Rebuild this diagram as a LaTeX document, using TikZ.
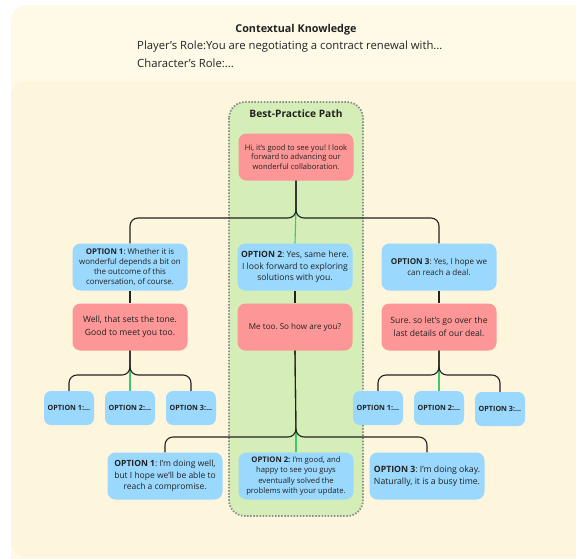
\documentclass[tikz,border=0pt]{standalone}
\usepackage{fontspec}
\setmainfont{Open Sans}
\frenchspacing
\definecolor{bgout}{HTML}{FFFAE8}
\definecolor{bgin}{HTML}{FEF5DD}
\definecolor{greenbg}{HTML}{D5EDB6}
\definecolor{bluefill}{HTML}{9AD8FD}
\definecolor{pinkfill}{HTML}{FD9696}
\definecolor{dotgray}{HTML}{8E8E8E}
\definecolor{greenline}{HTML}{3DC870}
\definecolor{txt}{HTML}{222222}
\newcommand{\fsz}[2]{\fontsize{#1}{#2}\selectfont}
\begin{document}
\begin{tikzpicture}[x=1pt,y=-1pt,
  box/.style={rounded corners=8pt, align=center, inner sep=0pt, text=txt,
    font=\fsz{7.9}{10}, minimum width=115pt, minimum height=47pt},
  bbox/.style={box, fill=bluefill},
  pbox/.style={box, fill=pinkfill},
  sbox/.style={rounded corners=7pt, fill=bluefill, align=center, inner sep=0pt, text=txt,
    font=\bfseries\fsz{7.2}{8}, minimum width=50pt, minimum height=34pt},
  conn/.style={draw=txt, line width=1.1pt, rounded corners=8pt},
  gconn/.style={draw=greenline, line width=1.1pt}]
\useasboundingbox (0,0) rectangle (576,558);
\fill[white] (0,0) rectangle (576,558);
\fill[bgout, rounded corners=16pt] (11,5) rectangle (620,620);
\fill[bgin, rounded corners=16pt] (11,81) rectangle (620,557);
% best practice region
\path[fill=greenbg, draw=dotgray, line width=1.8pt, dash pattern=on 1.5pt off 1.6pt, rounded corners=16pt]
  (229,102) rectangle (363,516);
\node[font=\bfseries\fsz{10.2}{11}, text=txt] (bpp) at (296,114) {Best-Practice Path};
% context
\node[font=\bfseries\fsz{10.8}{12}, text=txt] (title) at (296,30) {Contextual Knowledge};
\node[anchor=west, font=\fsz{11.3}{13}, text=txt, inner sep=0pt] (prole) at (137,47) {Player's Role:You are negotiating a contract renewal with...};
\node[anchor=west, font=\fsz{11.3}{13}, text=txt, inner sep=0pt] (crole) at (137,63) {Character's Role:...};
% nodes
\node[pbox, font=\fsz{7.6}{9.8}] (root) at (296,157) {Hi, it's good to see you! I look\\forward to advancing our\\wonderful collaboration.};
\node[bbox] (o1) at (130,267) {\textbf{OPTION 1}: Whether it is\\wonderful depends a bit on\\the outcome of this\\conversation, of course.};
\node[bbox, font=\fsz{8.6}{11.5}] (o2) at (295,267) {\textbf{OPTION 2}: Yes, same here.\\I look forward to exploring\\solutions with you.};
\node[bbox, font=\fsz{8.1}{11}] (o3) at (439,267) {\textbf{OPTION 3}: Yes, I hope we\\can reach a deal.};
\node[pbox, font=\fsz{8.6}{12.5}] (p1) at (130,327) {Well, that sets the tone.\\Good to meet you too.};
\node[pbox, font=\fsz{8.1}{11}] (p2) at (295,327) {Me too. So how are you?};
\node[pbox, font=\fsz{8.6}{12.5}] (p3) at (439,327) {Sure. so let's go over the\\last details of our deal.};
\node[sbox] (s11) at (69,408) {OPTION 1:...};
\node[sbox] (s12) at (130,408) {OPTION 2:...};
\node[sbox] (s13) at (191,408) {OPTION 3:...};
\node[sbox] (s31) at (378,408) {OPTION 1:...};
\node[sbox] (s32) at (439,408) {OPTION 2:...};
\node[sbox] (s33) at (500,409) {OPTION 3:...};
\node[bbox, font=\fsz{8.5}{11.5}] (b1) at (165,476) {\textbf{OPTION 1}: I'm doing well,\\but I hope we'll be able to\\reach a compromise.};
\node[bbox, font=\fsz{7.7}{10.3}] (b2) at (296,476) {\textbf{OPTION 2:} I'm good, and\\happy to see you guys\\eventually solved the\\problems with your update.};
\node[bbox, font=\fsz{8.7}{12}] (b3) at (427,476) {\textbf{OPTION 3}: I'm doing okay.\\Naturally, it is a busy time.};
% junctions
\coordinate (j0) at (296,218);
\coordinate (j0g) at (296,208);
\coordinate (j1) at (130,375);
\coordinate (j1g) at (130,366);
\coordinate (j3) at (439,375);
\coordinate (j3g) at (439,366);
\coordinate (j2) at (296,437);
\coordinate (j2g) at (296,428);
% connectors
\draw[gconn] (j0g) -- (o2.north);
\draw[conn] (root.south) -- (j0) -- (j0 -| o1) -- (o1.north);
\draw[conn] (root.south) -- (j0) -- (j0 -| o3) -- (o3.north);
\draw[conn] (o1.south) -- (p1.north);
\draw[conn] (o2.south) -- (p2.north);
\draw[conn] (o3.south) -- (p3.north);
\draw[gconn] (j1g) -- (s12.north);
\draw[conn] (p1.south) -- (j1) -- (j1 -| s11) -- (s11.north);
\draw[conn] (p1.south) -- (j1) -- (j1 -| s13) -- (s13.north);
\draw[gconn] (j3g) -- (s32.north);
\draw[conn] (p3.south) -- (j3) -- (j3 -| s31) -- (s31.north);
\draw[conn] (p3.south) -- (j3) -- (j3 -| s33) -- (s33.north);
\draw[gconn] (j2g) -- (b2.north);
\draw[conn] (p2.south) -- (j2) -- (j2 -| b1) -- (b1.north);
\draw[conn] (p2.south) -- (j2) -- (j2 -| b3) -- (b3.north);
\end{tikzpicture}
\end{document}
